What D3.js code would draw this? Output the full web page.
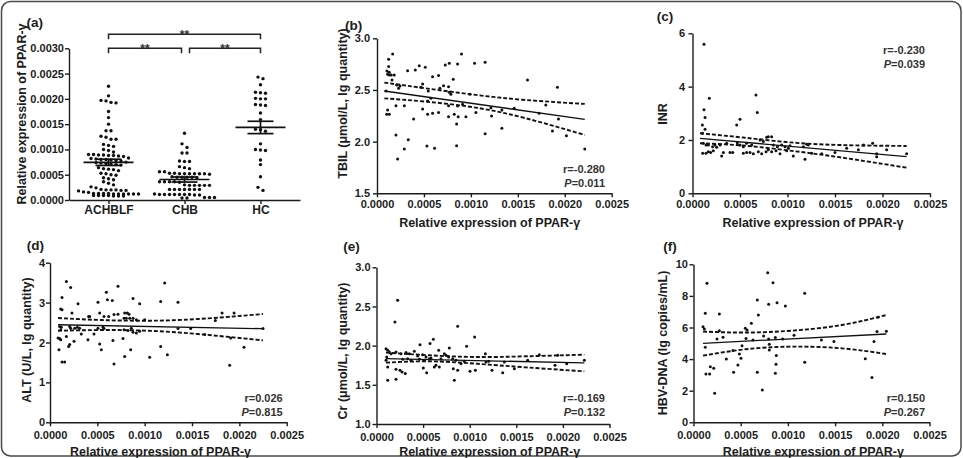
<!DOCTYPE html>
<html><head><meta charset="utf-8">
<script src="https://cdn.jsdelivr.net/npm/d3@7"></script>
<style>
body{margin:0;background:#fff;}
svg{display:block;}
</style></head><body>
<svg id="chart" width="963" height="458"></svg>
<script>
// ---------------- DATA ----------------
const groups = ["ACHBLF", "CHB", "HC"];
const achblfValues = [
  0.00225, 0.00206, 0.00197, 0.00193, 0.00192, 0.00196,
  0.00175, 0.00163, 0.00150, 0.00137, 0.00137,
  0.00124, 0.00120, 0.00120, 0.00126,
  0.00108, 0.00106, 0.00110,
  0.00100, 0.00098, 0.00095,
  0.00090, 0.00089, 0.00089, 0.00088, 0.00088, 0.00087, 0.00090, 0.00086,
  0.00082, 0.00081, 0.00080, 0.00080, 0.00079, 0.00078, 0.00083, 0.00077,
  0.00074, 0.00073, 0.00072, 0.00071, 0.00070, 0.00075, 0.00069,
  0.00064, 0.00062, 0.00060, 0.00058, 0.00061,
  0.00052, 0.00050, 0.00049, 0.00053,
  0.00044, 0.00042, 0.00040,
  0.00036, 0.00033, 0.00030,
  0.00026, 0.00024,
  0.00020, 0.00019, 0.00019, 0.00020, 0.00021, 0.00018, 0.00020,
  0.00016, 0.00015,
  0.00013, 0.00012, 0.00012, 0.00012, 0.00013, 0.00012, 0.00013, 0.00012, 0.00012, 0.00013,
  0.00009, 0.00009, 0.00008, 0.00008, 0.00008, 0.00009, 0.00009
];
const chbValues = [
  0.00132, 0.00111, 0.00104, 0.00093, 0.00093,
  0.00076, 0.00076, 0.00077, 0.00064, 0.00066, 0.00062, 0.00056, 0.00056,
  0.00052, 0.00052, 0.00053, 0.00052, 0.00051, 0.00052, 0.00052, 0.00053, 0.00052,
  0.00045, 0.00045, 0.00046, 0.00045, 0.00044, 0.00045,
  0.00036, 0.00036, 0.00035, 0.00036, 0.00036,
  0.00029, 0.00029, 0.00030, 0.00029, 0.00029, 0.00029,
  0.00021, 0.00021, 0.00021, 0.00021, 0.00021, 0.00021, 0.00021,
  0.00011, 0.00011, 0.00011, 0.00011, 0.00012, 0.00011, 0.00011, 0.00010, 0.00011, 0.00010,
  0.00005, 0.00004, 0.00004, 0.00005, 0.00005
];
const hcValues = [
  0.00243, 0.00240, 0.00228, 0.00212, 0.00213, 0.00211,
  0.00200, 0.00201, 0.00200, 0.00188, 0.00187, 0.00189,
  0.00172, 0.00159, 0.00140, 0.00139, 0.00136,
  0.00111, 0.00100, 0.00099, 0.00098, 0.00079, 0.00070, 0.00046, 0.00025, 0.00019
];
const groupMeans = [0.000745, 0.000405, 0.001435];
const groupSEM = [0.000062, 0.000050, 0.000122];
const comparisons = [["ACHBLF", "HC", "**"], ["ACHBLF", "CHB", "**"], ["CHB", "HC", "**"]];
const exprTicks = [0, 0.0005, 0.0010, 0.0015, 0.0020, 0.0025, 0.0030];
const xTicks = [0, 0.0005, 0.0010, 0.0015, 0.0020, 0.0025];

// (b) TBIL
const tbilPoints = [
  [0.000167,2.848],[0.000124,2.797],[0.000124,2.726],[0.000106,2.684],[0.000131,2.671],[0.000131,2.645],
  [0.000152,2.645],[0.000184,2.645],[0.000113,2.652],[0.000160,2.597],[0.000209,2.548],[0.000230,2.516],
  [0.000245,2.539],[0.000096,2.490],[0.000326,2.687],[0.000408,2.694],[0.000450,2.735],[0.000514,2.719],
  [0.000727,2.742],[0.000770,2.758],[0.000858,2.752],[0.000900,2.848],[0.001039,2.758],[0.001152,2.768],
  [0.000656,2.639],[0.000592,2.629],[0.000812,2.603],[0.001603,2.597],[0.001922,2.526],[0.000486,2.558],
  [0.000468,2.526],[0.000709,2.542],[0.000762,2.532],[0.000670,2.516],[0.000770,2.477],[0.000787,2.458],
  [0.000546,2.490],[0.000574,2.419],[0.000539,2.394],[0.000989,2.458],[0.000202,2.348],[0.000291,2.348],
  [0.000113,2.306],[0.000103,2.265],[0.000131,2.265],[0.000390,2.219],[0.000486,2.316],[0.000539,2.265],
  [0.000592,2.274],[0.000656,2.281],[0.000762,2.242],[0.000823,2.265],[0.000865,2.242],[0.000947,2.242],
  [0.000762,2.348],[0.000858,2.345],[0.000911,2.361],[0.001053,2.281],[0.001213,2.329],[0.001220,2.248],
  [0.001330,2.306],[0.001461,2.323],[0.001727,2.274],[0.001798,2.355],[0.001933,2.219],[0.001869,2.103],
  [0.002018,2.058],[0.002213,1.929],[0.000848,2.171],[0.001152,2.077],[0.001330,2.129],[0.000202,2.065],
  [0.000333,2.019],[0.000291,1.929],[0.000532,1.958],[0.000613,1.935],[0.000848,1.961],[0.000220,1.832]
];
const tbilFit = [[0.000078, 2.490], [0.002213, 2.216]];
const tbilUpper = [[0.000078,2.571],[0.000521,2.516],[0.001053,2.452],[0.001585,2.403],[0.002213,2.365]];
const tbilLower = [[0.000078,2.419],[0.000521,2.387],[0.001053,2.329],[0.001585,2.226],[0.002213,2.065]];
const tbilTicks = [1.5, 2.0, 2.5, 3.0];

// (c) INR
const inrPoints = [
  [0.000121,5.59],[0.000177,3.56],[0.000121,3.13],[0.000132,2.84],[0.000104,2.56],[0.000132,2.40],
  [0.000668,3.69],[0.000682,3.03],[0.000500,2.78],[0.000465,2.56],[0.000104,2.25],[0.000114,1.875],
  [0.000142,1.81],[0.000167,1.81],[0.000107,1.50],[0.000142,1.50],[0.000167,1.56],[0.000191,1.53],
  [0.000219,1.60],[0.000212,1.75],[0.000237,1.81],[0.000254,1.73],[0.000307,1.40],[0.000325,1.53],
  [0.000395,1.53],[0.000423,1.53],[0.000472,1.90],[0.000500,1.81],[0.000535,1.75],[0.000570,1.875],
  [0.000535,1.50],[0.000570,1.53],[0.000605,1.53],[0.000640,1.48],[0.000693,1.56],[0.000728,1.48],
  [0.000774,1.56],[0.000798,1.63],[0.000833,1.56],[0.000879,1.60],[0.000921,1.48],[0.000781,2.10],
  [0.000798,2.125],[0.000833,2.125],[0.000711,2.00],[0.000746,1.94],[0.000851,1.81],[0.000893,1.75],
  [0.000939,1.81],[0.000974,1.75],[0.000991,1.60],[0.001009,1.69],[0.001061,1.40],[0.001167,1.75],
  [0.001202,1.84],[0.001219,1.81],[0.001184,1.28],[0.001254,1.50],[0.001360,1.48],[0.001500,1.53],
  [0.001623,1.69],[0.001746,1.63],[0.001896,1.875],[0.001939,1.375],[0.001939,1.48],[0.002044,1.63],
  [0.002254,1.48],[0.001026,1.78],[0.000290,1.81],[0.000360,1.875],[0.000623,1.81],[0.001800,1.81]
];
const inrFit = [[0.000079, 2.06], [0.002254, 1.375]];
const inrUpper = [[0.000079,2.25],[0.000535,2.09],[0.001026,1.91],[0.001553,1.81],[0.002254,1.775]];
const inrLower = [[0.000079,1.875],[0.000535,1.79],[0.001026,1.60],[0.001553,1.35],[0.002254,0.96]];
const inrTicks = [0, 2, 4, 6];

// (d) ALT
const altPoints = [
  [0.000173,3.53],[0.000218,3.38],[0.000127,3.13],[0.000296,2.97],[0.000113,2.84],[0.000127,2.82],
  [0.000232,2.74],[0.000408,2.65],[0.000507,3.01],[0.000525,2.74],[0.000570,2.65],[0.000620,2.65],
  [0.000595,3.26],[0.000606,3.07],[0.000658,3.05],[0.000718,3.41],[0.000676,2.70],[0.000718,2.71],
  [0.000789,2.74],[0.000817,2.74],[0.000835,2.71],[0.000782,2.61],[0.000806,2.61],[0.000842,2.61],
  [0.000877,2.61],[0.000912,2.57],[0.000877,3.10],[0.000947,2.97],[0.001000,2.57],[0.001169,3.03],
  [0.001211,3.49],[0.001352,3.01],[0.001746,2.55],[0.001817,2.74],[0.001944,2.74],[0.002250,2.35],
  [0.001352,2.35],[0.001486,2.35],[0.001634,2.20],[0.001908,2.11],[0.002049,1.88],[0.001898,1.43],
  [0.000102,2.40],[0.000120,2.38],[0.000113,2.32],[0.000085,2.11],[0.000102,2.10],[0.000113,2.07],
  [0.000095,1.82],[0.000127,1.51],[0.000155,1.51],[0.000173,2.15],[0.000197,1.90],[0.000208,1.95],
  [0.000208,2.40],[0.000218,2.36],[0.000261,2.36],[0.000254,2.03],[0.000289,2.38],[0.000313,2.36],
  [0.000331,2.21],[0.000401,2.07],[0.000465,2.21],[0.000507,2.36],[0.000525,1.96],[0.000542,1.82],
  [0.000560,2.38],[0.000570,2.35],[0.000665,2.05],[0.000676,1.46],[0.000771,2.10],[0.000789,1.65],
  [0.000852,1.82],[0.000782,2.32],[0.000824,2.30],[0.000859,2.36],[0.000877,2.26],[0.000912,2.24],
  [0.000947,2.28],[0.001053,1.63],[0.001169,1.90],[0.001240,1.69],[0.000419,2.65]
];
const altFit = [[0.0000845, 2.445], [0.00225, 2.346]];
const altUpper = [[0.0000845,2.613],[0.000542,2.563],[0.001035,2.546],[0.001563,2.588],[0.00225,2.713]];
const altLower = [[0.0000845,2.295],[0.000542,2.312],[0.001035,2.295],[0.001563,2.212],[0.00225,2.053]];
const altTicks = [0, 1, 2, 3, 4];

// (e) Cr
const crPoints = [
  [0.000227,2.579],[0.000198,2.302],[0.000871,2.247],[0.001053,2.111],[0.000610,2.081],[0.000574,2.026],
  [0.000467,2.013],[0.000667,1.940],[0.000967,1.991],[0.000781,1.970],[0.000120,1.557],[0.000209,1.570],
  [0.000835,1.557],[0.000102,1.962],[0.000120,1.940],[0.000138,1.919],[0.000156,1.898],[0.000109,1.855],
  [0.000102,1.813],[0.000120,1.728],[0.000209,1.919],[0.000263,1.898],[0.000317,1.911],[0.000352,1.898],
  [0.000406,1.928],[0.000281,1.826],[0.000334,1.834],[0.000370,1.813],[0.000209,1.698],[0.000252,1.685],
  [0.000274,1.664],[0.000309,1.643],[0.000442,1.868],[0.000495,1.885],[0.000531,1.855],[0.000567,1.834],
  [0.000585,1.843],[0.000460,1.826],[0.000513,1.813],[0.000502,1.715],[0.000538,1.655],[0.000620,1.728],
  [0.000638,1.749],[0.000674,1.728],[0.000692,1.834],[0.000728,1.898],[0.000746,1.877],[0.000774,1.855],
  [0.000817,1.834],[0.000853,1.813],[0.000824,1.706],[0.000871,1.685],[0.000907,1.770],[0.000942,1.800],
  [0.001003,1.672],[0.001061,1.685],[0.001168,1.898],[0.001175,1.791],[0.001239,1.685],[0.001354,1.655],
  [0.001479,1.706],[0.001622,1.813],[0.001747,1.885],[0.001944,1.877],[0.001915,1.749],[0.002041,1.770],
  [0.002230,1.813],[0.001372,1.791],[0.001204,1.800]
];
const crFit = [[0.000102, 1.834], [0.00223, 1.780]];
const crUpper = [[0.000102,1.911],[0.000567,1.877],[0.001068,1.855],[0.001604,1.864],[0.00223,1.885]];
const crLower = [[0.000102,1.783],[0.000567,1.800],[0.001068,1.770],[0.001604,1.723],[0.00223,1.672]];
const crTicks = [1.0, 1.5, 2.0, 2.5, 3.0];

// (f) HBV-DNA
const dnaPoints = [
  [0.000786,9.47],[0.000143,8.80],[0.000842,8.84],[0.001178,8.16],[0.000676,7.74],[0.000796,7.47],
  [0.000885,7.57],[0.000973,7.36],[0.000687,6.79],[0.000125,6.90],[0.000274,6.86],[0.000613,6.27],
  [0.000101,6.05],[0.000115,5.91],[0.000549,5.95],[0.000567,5.84],[0.000274,5.80],[0.000313,5.38],
  [0.000249,5.27],[0.000556,5.30],[0.000630,5.21],[0.000743,5.46],[0.000796,5.27],[0.000867,5.36],
  [0.000945,5.27],[0.001065,5.51],[0.001355,5.21],[0.001488,5.11],[0.001944,5.74],[0.002043,5.76],
  [0.001954,6.65],[0.001912,5.11],[0.001820,4.03],[0.001890,2.83],[0.000125,4.75],[0.000418,4.54],
  [0.000514,4.85],[0.000486,4.32],[0.000503,4.05],[0.000348,4.01],[0.000803,4.94],[0.000803,4.58],
  [0.000877,4.22],[0.000874,3.67],[0.000867,3.10],[0.000178,3.52],[0.000214,3.42],[0.000132,3.06],
  [0.000171,3.06],[0.000425,3.16],[0.000471,3.63],[0.000676,3.16],[0.001178,3.80],[0.000224,1.84],
  [0.000729,2.05]
];
const dnaFit = [[0.000101, 5.00], [0.002043, 5.59]];
const dnaUpper = [[0.000101,5.74],[0.000549,5.68],[0.001043,5.80],[0.001573,6.16],[0.002043,6.79]];
const dnaLower = [[0.000101,4.22],[0.000549,4.62],[0.001043,4.79],[0.001573,4.68],[0.002043,4.32]];
const dnaTicks = [0, 2, 4, 6, 8, 10];

const rValues = ["-0.280", "-0.230", "0.026", "-0.169", "0.150"];
const pValues = ["0.011", "0.039", "0.815", "0.132", "0.267"];

// ---------------- DRAWING ----------------
const FONT = '"Liberation Sans", Arial, Helvetica, sans-serif';
const INK = "#1c1c1c";
const svg = d3.select("#chart").attr("font-family", FONT);

svg.append("rect").attr("x", 1.5).attr("y", 1.5).attr("width", 959.5).attr("height", 454.5)
  .attr("rx", 9).attr("fill", "none").attr("stroke", "#4a4a4a").attr("stroke-width", 1.5);

function styleAxis(g, fs) {
  g.attr("font-family", FONT).attr("font-size", fs || 11);
  g.select(".domain").attr("stroke", INK).attr("stroke-width", 1.4);
  g.selectAll(".tick line").attr("stroke", INK).attr("stroke-width", 1.4);
  g.selectAll(".tick text").attr("fill", INK).attr("font-weight", "bold");
}
function label(x, y, txt, fs, anchor) {
  return svg.append("text").attr("x", x).attr("y", y).attr("text-anchor", anchor || "start")
    .attr("dominant-baseline", "central").attr("font-size", fs).attr("font-weight", "bold")
    .attr("fill", INK).text(txt);
}
function yTitle(x, y, txt) {
  svg.append("text").attr("transform", `translate(${x},${y}) rotate(-90)`)
    .attr("text-anchor", "middle").attr("dominant-baseline", "central")
    .attr("font-size", 12.5).attr("font-weight", "bold").attr("fill", INK).text(txt);
}

// ---------- Panel (a) ----------
(function () {
  const L = 69, R = 300, T = 48.3, B = 200;
  const x = d3.scalePoint().domain(groups).range([L, R]).padding(0.52);
  const y = d3.scaleLinear().domain([0, 0.003]).range([B, T]);
  const gy = svg.append("g").attr("transform", `translate(${L},0)`)
    .call(d3.axisLeft(y).tickValues(exprTicks).tickFormat(d3.format(".4f")).tickSize(4).tickPadding(1).tickSizeOuter(0));
  styleAxis(gy);
  const gx = svg.append("g").attr("transform", `translate(0,${B})`)
    .call(d3.axisBottom(x).tickSize(4).tickPadding(1.5).tickSizeOuter(0));
  styleAxis(gx, 12);

  const sets = [achblfValues, chbValues, hcValues];
  const spacing = 5;
  sets.forEach((vals, gi) => {
    const sorted = vals.slice().sort((a, b) => b - a);
    const rows = [];
    sorted.forEach(v => {
      const py = y(v);
      const last = rows[rows.length - 1];
      if (last && Math.abs(py - last.y0) < 3.6) last.items.push(py);
      else rows.push({ y0: py, items: [py] });
    });
    const cx = x(groups[gi]);
    const pts = [];
    rows.forEach(r => {
      const n = r.items.length;
      r.items.forEach((py, i) => pts.push([cx + (i - (n - 1) / 2) * spacing, py]));
    });
    svg.append("g").selectAll("circle").data(pts).join("circle")
      .attr("cx", d => d[0]).attr("cy", d => d[1]).attr("r", 1.7).attr("fill", "#111");
    // mean & SEM
    const m = groupMeans[gi], s = groupSEM[gi];
    const g = svg.append("g").attr("stroke", "#111").attr("stroke-width", 1.7);
    g.append("line").attr("x1", cx - 25).attr("x2", cx + 25).attr("y1", y(m)).attr("y2", y(m));
    g.append("line").attr("x1", cx - 13).attr("x2", cx + 13).attr("y1", y(m + s)).attr("y2", y(m + s));
    g.append("line").attr("x1", cx - 13).attr("x2", cx + 13).attr("y1", y(m - s)).attr("y2", y(m - s));
    g.append("line").attr("x1", cx).attr("x2", cx).attr("y1", y(m + s)).attr("y2", y(m - s));
  });

  // brackets
  const levels = [34.3, 48.3, 48.3];
  comparisons.forEach((c, i) => {
    let x1 = x(c[0]), x2 = x(c[1]);
    if (c[1] === "CHB") x2 -= 3;
    if (c[0] === "CHB") x1 += 5;
    const yy = levels[i];
    svg.append("path").attr("d", `M${x1},${yy + 5}V${yy}H${x2}V${yy + 5}`)
      .attr("fill", "none").attr("stroke", "#222").attr("stroke-width", 1.5);
    svg.append("text").attr("x", (x1 + x2) / 2).attr("y", yy + 4.5).attr("text-anchor", "middle")
      .attr("font-size", 12).attr("font-weight", "bold").attr("fill", "#333").text(c[2]);
  });

  label(26.5, 22, "(a)", 13.5);
  yTitle(21.5, 114, "Relative expression of PPAR-γ");
})();

// ---------- Scatter panels ----------
const scatterPanels = [
  { tag: "(b)", pts: tbilPoints, fit: tbilFit, up: tbilUpper, lo: tbilLower, dom: [1.5, 3.0], ticks: tbilTicks, fmt: ".1f",
    L: 377, R: 611.7, T: 38.3, B: 193.3, ypad: 3, xpad: 2.6, title: "TBIL (μmol/L, lg quantity)", tx: 343.3, ty: 103.5,
    lab: [345, 25], stat: [605, 169.3], si: 0, xt: [489.7, 223] },
  { tag: "(c)", pts: inrPoints, fit: inrFit, up: inrUpper, lo: inrLower, dom: [0, 6], ticks: inrTicks, fmt: "d",
    L: 692.5, R: 930, T: 33.3, B: 193.3, ypad: 3.5, xpad: 2.6, title: "INR", tx: 663, ty: 114,
    lab: [656.7, 16.7], stat: [925, 50], si: 1, xt: [813, 223] },
  { tag: "(d)", pts: altPoints, fit: altFit, up: altUpper, lo: altLower, dom: [0, 4], ticks: altTicks, fmt: "d",
    L: 50, R: 286.7, T: 262.7, B: 422.3, ypad: 1, xpad: 4.8, title: "ALT (U/L, lg quantity)", tx: 26.7, ty: 340,
    lab: [26.7, 245], stat: [282.7, 397.7], si: 2, xt: [160.5, 452] },
  { tag: "(e)", pts: crPoints, fit: crFit, up: crUpper, lo: crLower, dom: [1.0, 3.0], ticks: crTicks, fmt: ".1f",
    L: 376.5, R: 609.5, T: 267.3, B: 424, ypad: 2, xpad: 4.8, title: "Cr (μmol/L, lg quantity)", tx: 343.3, ty: 351,
    lab: [343.3, 246.7], stat: [605, 398.3], si: 3, xt: [489.7, 452] },
  { tag: "(f)", pts: dnaPoints, fit: dnaFit, up: dnaUpper, lo: dnaLower, dom: [0, 10], ticks: dnaTicks, fmt: "d",
    L: 693.5, R: 929.5, T: 264.3, B: 422.3, ypad: 1.5, xpad: 4.8, title: "HBV-DNA (lg copies/mL)", tx: 663.3, ty: 343,
    lab: [663.3, 246.7], stat: [925, 397.7], si: 4, xt: [813.3, 452] }
];

scatterPanels.forEach(p => {
  const x = d3.scaleLinear().domain([0, 0.0025]).range([p.L, p.R]);
  const y = d3.scaleLinear().domain(p.dom).range([p.B, p.T]);
  const gy = svg.append("g").attr("transform", `translate(${p.L},0)`)
    .call(d3.axisLeft(y).tickValues(p.ticks).tickFormat(d3.format(p.fmt)).tickSize(4).tickPadding(p.ypad).tickSizeOuter(0));
  styleAxis(gy);
  const gx = svg.append("g").attr("transform", `translate(0,${p.B})`)
    .call(d3.axisBottom(x).tickValues(xTicks).tickFormat(d3.format(".4f")).tickSize(4).tickPadding(p.xpad).tickSizeOuter(0));
  styleAxis(gx);

  svg.append("g").selectAll("circle").data(p.pts).join("circle")
    .attr("cx", d => x(d[0])).attr("cy", d => y(d[1])).attr("r", 1.5).attr("fill", "#111");

  const line = d3.line().x(d => x(d[0])).y(d => y(d[1]));
  const curve = d3.line().x(d => x(d[0])).y(d => y(d[1])).curve(d3.curveNatural);
  svg.append("path").attr("d", line(p.fit)).attr("fill", "none").attr("stroke", "#111").attr("stroke-width", 1.3);
  [p.up, p.lo].forEach(b => svg.append("path").attr("d", curve(b)).attr("fill", "none")
    .attr("stroke", "#111").attr("stroke-width", 1.9).attr("stroke-dasharray", "4,2"));

  label(p.lab[0], p.lab[1], p.tag, 13.5);
  yTitle(p.tx, p.ty, p.title);
  svg.append("text").attr("x", p.xt[0]).attr("y", p.xt[1]).attr("text-anchor", "middle")
    .attr("dominant-baseline", "central").attr("font-size", 12.5).attr("font-weight", "bold")
    .attr("fill", INK).text("Relative expression of PPAR-γ");

  label(p.stat[0], p.stat[1], "r=" + rValues[p.si], 11, "end").attr("fill", "#333");
  const t = label(p.stat[0], p.stat[1] + 14, "", 11, "end").attr("fill", "#333");
  t.append("tspan").attr("font-style", "italic").text("P");
  t.append("tspan").text("=" + pValues[p.si]);
});
</script>
</body></html>
